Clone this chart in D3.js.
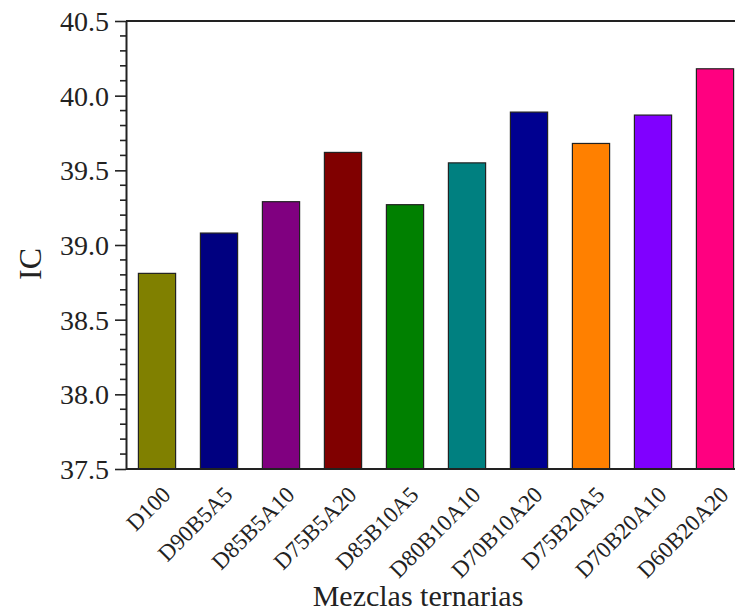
<!DOCTYPE html>
<html>
<head>
<meta charset="utf-8">
<script src="https://cdn.jsdelivr.net/npm/d3@7"></script>
<style>
  html, body { margin: 0; padding: 0; background: #fff; }
  svg { display: block; }
  svg text { font-family: "Liberation Serif", "Times New Roman", serif; fill: #222; }
</style>
</head>
<body>
<svg id="chart" width="735" height="611"></svg>
<script>
// Ternary blends and their IC values
const categories = ["D100", "D90B5A5", "D85B5A10", "D75B5A20", "D85B10A5",
                    "D80B10A10", "D70B10A20", "D75B20A5", "D70B20A10", "D60B20A20"];
const icValues = [38.81, 39.08, 39.29, 39.62, 39.27, 39.55, 39.89, 39.68, 39.87, 40.18];
const barColors = ["#808000", "#000080", "#800080", "#800000", "#008000",
                   "#008080", "#000090", "#FF8000", "#8000FF", "#FF0080"];
const yTicks = [37.5, 38.0, 38.5, 39.0, 39.5, 40.0, 40.5];

const svg = d3.select("#chart");
const font = "'Liberation Serif', 'Times New Roman', serif";

const plotLeft = 126, plotRight = 746, plotTop = 21, plotBottom = 469;

const x = d3.scaleBand().domain(categories).range([plotLeft, plotRight])
  .paddingInner(0.4).paddingOuter(0.2);
const y = d3.scaleLinear().domain([37.5, 40.5]).range([plotBottom, plotTop]);

// bars
svg.append("g").selectAll("rect").data(categories).join("rect")
  .attr("x", d => x(d))
  .attr("width", x.bandwidth())
  .attr("y", (d, i) => y(icValues[i]))
  .attr("height", (d, i) => y(37.5) - y(icValues[i]))
  .attr("fill", (d, i) => barColors[i])
  .attr("stroke", "#222")
  .attr("stroke-width", 1.2);

// frame lines: bottom and top
const frame = svg.append("g").attr("stroke", "#222").attr("stroke-width", 2);
frame.append("line").attr("x1", plotLeft).attr("x2", plotRight).attr("y1", plotBottom).attr("y2", plotBottom);
frame.append("line").attr("x1", plotLeft).attr("x2", plotRight).attr("y1", plotTop).attr("y2", plotTop);

// y axis with major ticks
const yAxis = d3.axisLeft(y).tickValues(yTicks).tickFormat(d3.format(".1f"))
  .tickSize(11).tickPadding(6).tickSizeOuter(0);
const gy = svg.append("g").attr("transform", `translate(${plotLeft},0)`).call(yAxis)
  .attr("font-family", null).attr("font-size", null);
gy.select(".domain").attr("stroke", "#222").attr("stroke-width", 2);
gy.selectAll(".tick line").attr("stroke", "#222").attr("stroke-width", 1.6);
gy.selectAll(".tick text").style("font-family", font).style("font-size", "28px")
  .attr("fill", "#222").attr("dy", "0.34em");

// y minor ticks
const minor = d3.range(0, 31).map(k => 37.5 + k * 0.1).filter((v, k) => k % 5 !== 0);
svg.append("g").selectAll("line").data(minor).join("line")
  .attr("x1", plotLeft - 6).attr("x2", plotLeft)
  .attr("y1", d => y(d)).attr("y2", d => y(d))
  .attr("stroke", "#222").attr("stroke-width", 1.6);

// x tick labels, rotated
svg.append("g").selectAll("text").data(categories).join("text")
  .attr("transform", d => `translate(${x(d) + x.bandwidth() / 2 + 15},${plotBottom + 27}) rotate(-45)`)
  .attr("text-anchor", "end")
  .style("font-size", "23px")
  .text(d => d);

// axis titles
svg.append("text")
  .attr("transform", `translate(41,264) rotate(-90)`)
  .attr("text-anchor", "middle")
  .style("font-size", "32px")
  .text("IC");

svg.append("text")
  .attr("x", 418).attr("y", 606)
  .attr("text-anchor", "middle")
  .style("font-size", "30px")
  .text("Mezclas ternarias");
</script>
</body>
</html>
